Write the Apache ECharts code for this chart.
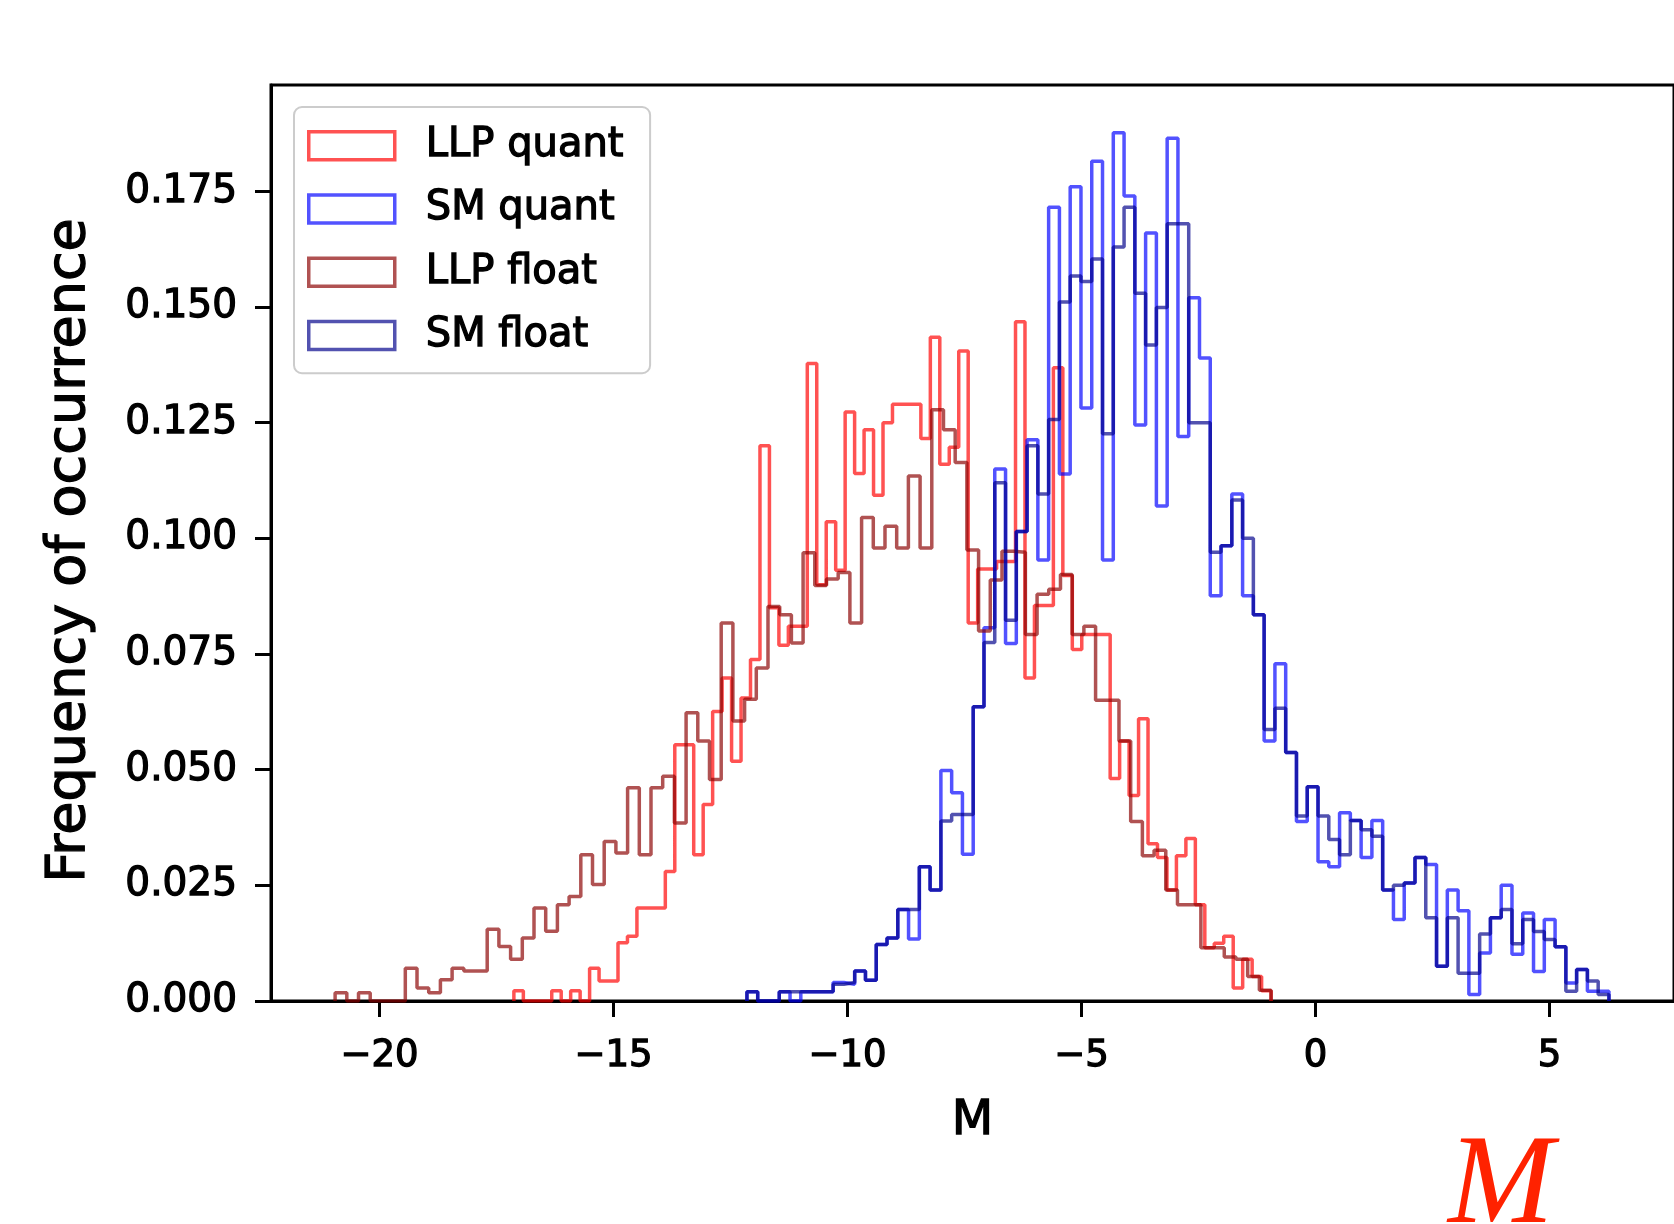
<!DOCTYPE html>
<html>
<head>
<meta charset="utf-8">
<title>Frequency of occurrence of M</title>
<script src="https://cdn.jsdelivr.net/npm/echarts@6/dist/echarts.min.js"></script>
<style>
  html, body { margin: 0; padding: 0; background: #fff; }
  #chart { width: 1674px; height: 1224px; }
</style>
</head>
<body>
<div id="chart"></div>
<script>
// Histogram densities (80 equal-width bins per sample), normalised so each integrates to 1.
const llpQuantStart = -17.13, llpQuantWidth = 0.20225;
const llpQuant = [
  0.0022, 0, 0, 0, 0.0022, 0, 0.0022, 0, 0.0071, 0.0043,
  0.0043, 0.0126, 0.014, 0.0201, 0.0201, 0.0201, 0.028, 0.0554, 0.0554, 0.0316,
  0.0425, 0.0626, 0.0698, 0.0518, 0.0655, 0.0738, 0.12, 0.085, 0.0769, 0.081,
  0.081, 0.1378, 0.09, 0.1036, 0.0931, 0.1273, 0.114, 0.1235, 0.1093, 0.125,
  0.129, 0.129, 0.129, 0.1216, 0.1435, 0.116, 0.1197, 0.1405, 0.0817, 0.0934,
  0.0934, 0.095, 0.095, 0.1468, 0.0698, 0.0855, 0.0855, 0.1369, 0.092, 0.076,
  0.0792, 0.0792, 0.0792, 0.0481, 0.0562, 0.0444, 0.061, 0.034, 0.031, 0.024,
  0.0314, 0.0351, 0.0208, 0.0115, 0.0125, 0.014, 0.0028, 0.009, 0.0053, 0.0022
];

const llpFloatStart = -20.95, llpFloatWidth = 0.25;
const llpFloat = [
  0.0018, 0, 0.0018, 0, 0, 0, 0.0071, 0.0028, 0.0018, 0.0046,
  0.0071, 0.0065, 0.0065, 0.0155, 0.0118, 0.009, 0.0136, 0.0201, 0.0151, 0.0208,
  0.0226, 0.0316, 0.0252, 0.0345, 0.032, 0.0461, 0.0316, 0.0461, 0.0486, 0.0385,
  0.0623, 0.0562, 0.0479, 0.0817, 0.0605, 0.0652, 0.072, 0.0853, 0.0835, 0.0774,
  0.0969, 0.0898, 0.0912, 0.0926, 0.0817, 0.1045, 0.0979, 0.1026, 0.0979, 0.1135,
  0.0979, 0.1278, 0.1235, 0.1164, 0.0975, 0.08, 0.091, 0.0972, 0.097, 0.0792,
  0.0879, 0.089, 0.0922, 0.0792, 0.081, 0.065, 0.065, 0.0562, 0.0388, 0.0314,
  0.0326, 0.024, 0.0208, 0.0208, 0.0115, 0.0115, 0.0095, 0.009, 0.0053, 0.0023
];

const smStart = -12.15, smWidth = 0.23025;
const smQuant = [
  0.002, 0, 0, 0.002, 0, 0.002, 0.002, 0.002, 0.004, 0.0036,
  0.0065, 0.0045, 0.0122, 0.0136, 0.0198, 0.0134, 0.029, 0.024, 0.0498, 0.045,
  0.0317, 0.0636, 0.0807, 0.115, 0.0773, 0.1015, 0.1213, 0.0953, 0.1716, 0.1139,
  0.176, 0.1282, 0.1815, 0.0953, 0.1877, 0.174, 0.1245, 0.166, 0.107, 0.1865,
  0.122, 0.152, 0.139, 0.0876, 0.0984, 0.1096, 0.0876, 0.0835, 0.0562, 0.0729,
  0.0537, 0.0388, 0.0463, 0.0301, 0.029, 0.0407, 0.039, 0.031, 0.039, 0.024,
  0.0176, 0.0255, 0.031, 0.0295, 0.0075, 0.024, 0.0195, 0.0014, 0.0104, 0.018,
  0.025, 0.0101, 0.019, 0.0064, 0.0176, 0.0117, 0.0039, 0.0068, 0.0021, 0.0021
];
const smFloat = [
  0.002, 0, 0, 0.002, 0.002, 0.002, 0.002, 0.002, 0.0036, 0.004,
  0.0065, 0.0045, 0.0122, 0.0136, 0.0198, 0.0198, 0.029, 0.024, 0.0389, 0.0403,
  0.0403, 0.0636, 0.0775, 0.112, 0.0823, 0.1015, 0.12, 0.1096, 0.1257, 0.1511,
  0.1567, 0.1555, 0.1604, 0.1226, 0.163, 0.1716, 0.153, 0.1418, 0.1499, 0.168,
  0.168, 0.125, 0.125, 0.097, 0.0984, 0.1083, 0.1, 0.0835, 0.0587, 0.0633,
  0.0537, 0.04, 0.0463, 0.04, 0.0349, 0.0316, 0.039, 0.037, 0.0356, 0.024,
  0.025, 0.0255, 0.031, 0.018, 0.0075, 0.018, 0.006, 0.006, 0.0145, 0.018,
  0.0198, 0.0124, 0.0176, 0.015, 0.0133, 0.0117, 0.0021, 0.0068, 0.0043, 0.0014
];

const seriesNames = ['LLP quant', 'SM quant', 'LLP float', 'SM float'];
const xTicks = [-20, -15, -10, -5, 0, 5];
const yTicks = [0, 0.025, 0.05, 0.075, 0.1, 0.125, 0.15, 0.175];

const FONT = "'DejaVu Sans', 'Liberation Sans', sans-serif";
const colors = {
  'LLP quant': 'rgba(255, 0, 0, 0.68)',
  'SM quant': 'rgba(0, 0, 255, 0.68)',
  'LLP float': 'rgba(139, 0, 0, 0.68)',
  'SM float': 'rgba(0, 0, 139, 0.68)'
};
// a thin outline of the glyphs in their own colour gives the text a heavier stroke
const heavy = { textBorderColor: '#000', textBorderWidth: 1.3 };

// Outline of a step histogram: up from the baseline, across every bin top, back down.
function stepOutline(start, width, heights) {
  const pts = [[start, 0]];
  heights.forEach((h, i) => {
    const x0 = start + i * width;
    pts.push([x0, h], [x0 + width, h]);
  });
  pts.push([start + heights.length * width, 0]);
  return pts;
}

const outlines = {
  'LLP quant': stepOutline(llpQuantStart, llpQuantWidth, llpQuant),
  'SM quant': stepOutline(smStart, smWidth, smQuant),
  'LLP float': stepOutline(llpFloatStart, llpFloatWidth, llpFloat),
  'SM float': stepOutline(smStart, smWidth, smFloat)
};

const chart = echarts.init(document.getElementById('chart'), null, { renderer: 'canvas' });

const minusFmt = v => String(v).replace('-', '\u2212');

chart.setOption({
  animation: false,
  backgroundColor: '#ffffff',
  textStyle: { fontFamily: FONT },
  grid: {
    left: 271, top: 85, right: -7, bottom: 223,
    show: true, borderColor: '#000', borderWidth: 3, backgroundColor: 'transparent'
  },
  legend: {
    orient: 'vertical',
    left: 294, top: 107,
    padding: [18, 26, 17, 13],
    backgroundColor: 'rgba(255,255,255,0.8)',
    borderColor: '#cccccc', borderWidth: 2, borderRadius: 8,
    itemWidth: 86, itemHeight: 28, itemGap: 22,
    textStyle: Object.assign({ fontSize: 40, color: '#000', fontFamily: FONT, padding: [0, 0, 0, 26] }, heavy),
    data: seriesNames.map(n => ({
      name: n, icon: 'rect',
      itemStyle: { color: 'rgba(0,0,0,0)', borderColor: colors[n], borderWidth: 3.5 }
    }))
  },
  xAxis: {
    type: 'value', min: -22.32, max: 7.66,
    name: 'M', nameLocation: 'middle', nameGap: 97,
    nameTextStyle: Object.assign({ fontSize: 48, color: '#000', fontFamily: FONT }, heavy),
    axisLine: { show: true, onZero: false, lineStyle: { color: '#000', width: 3 } },
    axisTick: { show: true, length: 16, lineStyle: { color: '#000', width: 3 }, customValues: xTicks },
    axisLabel: Object.assign({ fontSize: 37, color: '#000', margin: 37, fontFamily: FONT, customValues: xTicks, formatter: minusFmt }, heavy),
    splitLine: { show: false }
  },
  yAxis: {
    type: 'value', min: 0, max: 0.198,
    name: 'Frequency of occurrence', nameLocation: 'middle', nameGap: 174,
    nameTextStyle: Object.assign({ fontSize: 54, color: '#000', fontFamily: FONT, padding: [0, 15, 0, 0] }, heavy),
    axisLine: { show: true, onZero: false, lineStyle: { color: '#000', width: 3 } },
    axisTick: { show: true, length: 16, lineStyle: { color: '#000', width: 3 }, customValues: yTicks },
    axisLabel: Object.assign({ fontSize: 39, color: '#000', margin: 34, fontFamily: FONT, customValues: yTicks, formatter: v => v.toFixed(3) }, heavy),
    splitLine: { show: false }
  },
  series: seriesNames.map(n => ({
    name: n, type: 'line', data: outlines[n],
    showSymbol: false, symbol: 'none', clip: true,
    lineStyle: { color: colors[n], width: 3.5 },
    itemStyle: { color: colors[n] },
    emphasis: { disabled: true }
  })),
  graphic: [{
    type: 'text', left: 1448, top: 1125,
    style: { text: 'M', font: 'italic 127px "Liberation Serif", serif', fill: '#ff2200' }
  }]
});
</script>
</body>
</html>
